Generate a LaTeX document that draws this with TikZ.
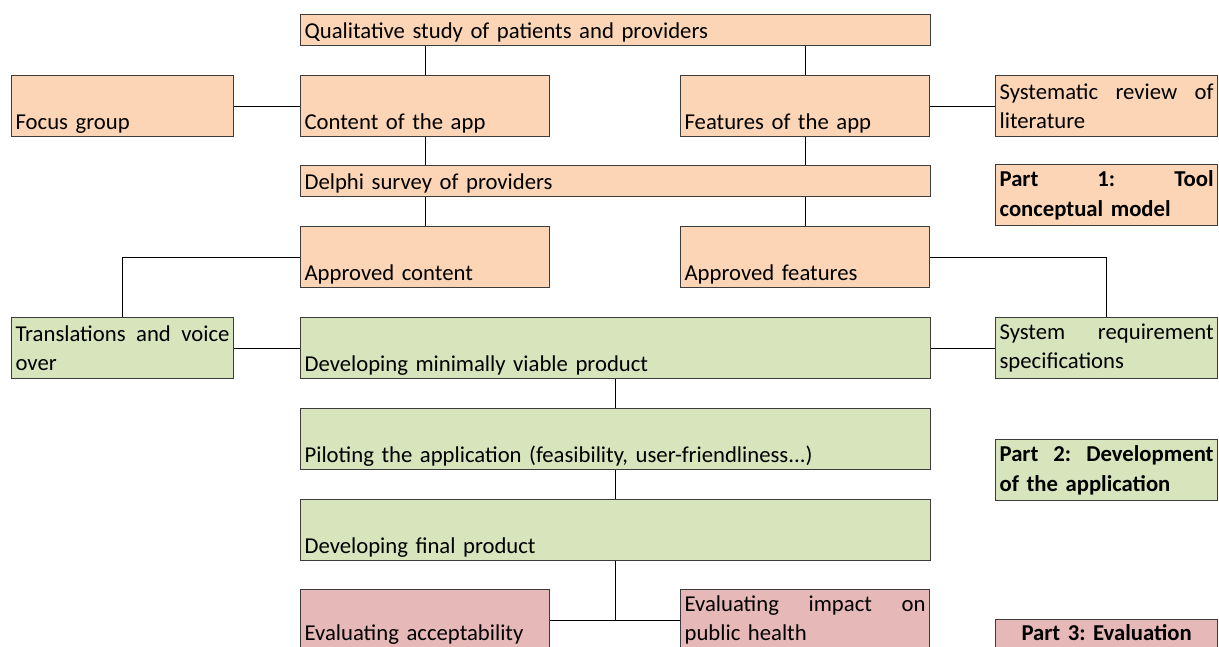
\documentclass[tikz,border=0pt]{standalone}
\usepackage{fontspec}
\setmainfont{Carlito}
\usepackage{xcolor}
\usepackage{tikz}

\definecolor{boxorange}{HTML}{FBD5B5}
\definecolor{boxgreen}{HTML}{D8E4BC}
\definecolor{boxred}{HTML}{E6B8B7}
\definecolor{edgegray}{HTML}{3C3C3C}
\newcommand{\boxfont}{\fontsize{22.7}{29.5}\selectfont\frenchspacing}

\tikzset{
    box/.style = {draw=edgegray, line width=1.2pt, anchor=north west, align=left,
                  inner xsep=4pt, inner ysep=3pt, font=\boxfont},
    tall/.style = {minimum height=61pt},
    flat/.style = {minimum height=31pt},
    low/.style = {text height=#1, text depth=4.5pt}, % text sits on the bottom edge
    wide/.style = {text width=622pt},
    mid/.style = {text width=241pt},
    side/.style = {text width=214pt},
    link/.style = {draw=black, line width=1.2pt}
}

\begin{document}
\begin{tikzpicture}[x=1pt, y=-1pt]
                \useasboundingbox (0,0) rectangle (1219,646);
                \clip (0,0) rectangle (1219,646);

                % Part 1: tool conceptual model
                \node[box, wide, flat, low=20.5pt, fill=boxorange] (qual) at (300,14) {Qualitative study of patients and providers};
                \node[box, side, tall, low=50.5pt, fill=boxorange] (focus) at (11,75) {Focus group};
                \node[box, mid, tall, low=50.5pt, fill=boxorange] (content) at (300,75) {Content of the app};
                \node[box, mid, tall, low=50.5pt, fill=boxorange] (feat) at (680,75) {Features of the app};
                \node[box, side, tall, fill=boxorange] (sysrev) at (995,75) {Systematic\hfill review\hfill of\\literature};
                \node[box, wide, flat, low=20.5pt, fill=boxorange] (delphi) at (300,165) {Delphi survey of providers};
                \node[box, side, tall, fill=boxorange, font=\boxfont\bfseries] (part1) at (995,164) {Part\hfill 1:\hfill Tool\\conceptual model};
                \node[box, mid, tall, low=50.5pt, fill=boxorange] (appc) at (300,226) {Approved content};
                \node[box, mid, tall, low=50.5pt, fill=boxorange] (appf) at (680,226) {Approved features};

                % Part 2: development of the application
                \node[box, side, tall, fill=boxgreen] (trans) at (11,317) {Translations\hfill and\hfill voice\\over};
                \node[box, wide, tall, low=50.5pt, fill=boxgreen] (mvp) at (300,317) {Developing minimally viable product};
                \node[box, side, tall, fill=boxgreen] (sysreq) at (995,317) {System\hfill requirement\\specifications};
                \node[box, wide, tall, low=50.5pt, fill=boxgreen] (pilot) at (300,408) {Piloting the application (feasibility, user-friendliness...)};
                \node[box, side, tall, fill=boxgreen, font=\boxfont\bfseries] (part2) at (995,439) {Part\hfill 2:\hfill Development\\of the application};
                \node[box, wide, tall, low=50.5pt, fill=boxgreen] (final) at (300,499) {Developing final product};

                % Part 3: evaluation (cut off at the bottom)
                \node[box, mid, tall, text height=48pt, text depth=7pt, fill=boxred] (evacc) at (300,589) {Evaluating acceptability};
                \node[box, mid, tall, fill=boxred] (evimp) at (680,589) {Evaluating\hfill impact\hfill on\\public health};
                \node[box, side, align=center, text height=18pt, text depth=36pt, fill=boxred, font=\boxfont\bfseries] (part3) at (995,619) {Part 3: Evaluation};

                % Connectors
                \draw[link] (qual.south -| content.north) -- (content.north);
                \draw[link] (qual.south -| feat.north) -- (feat.north);
                \draw[link] (focus.east) -- (content.west);
                \draw[link] (feat.east) -- (sysrev.west);
                \draw[link] (content.south) -- (content.south |- delphi.north);
                \draw[link] (feat.south) -- (feat.south |- delphi.north);
                \draw[link] (delphi.south -| appc.north) -- (appc.north);
                \draw[link] (delphi.south -| appf.north) -- (appf.north);
                \draw[link] (appc.west) -| (trans.north);
                \draw[link] (appf.east) -| (sysreq.north);
                \draw[link] (trans.east) -- (mvp.west);
                \draw[link] (mvp.east) -- (sysreq.west);
                \draw[link] (mvp.south) -- (pilot.north);
                \draw[link] (pilot.south) -- (final.north);
                \coordinate (split) at (final.south |- evacc.east);
                \draw[link] (final.south) -- (split);
                \draw[link] (evacc.east) -- (evimp.west);
            \end{tikzpicture}
\end{document}
